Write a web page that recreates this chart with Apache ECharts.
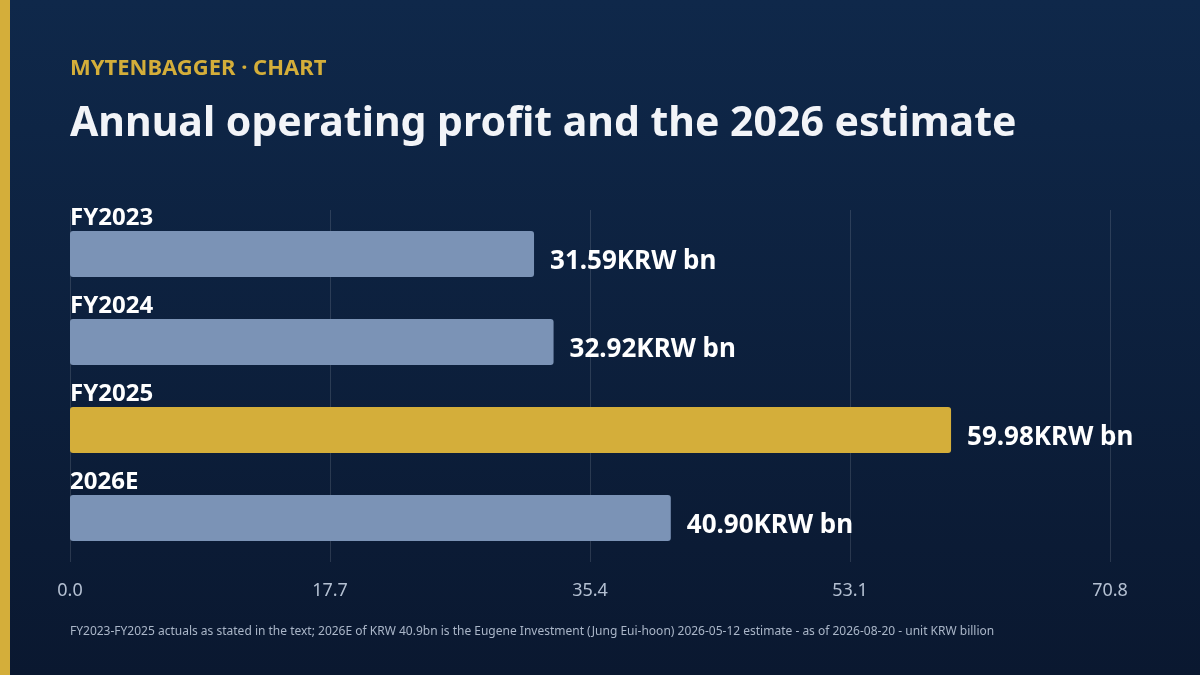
<!DOCTYPE html>
<html><head><meta charset="utf-8">
<script src="https://cdn.jsdelivr.net/npm/echarts@6/dist/echarts.min.js"></script>
<style>html,body{margin:0;padding:0;}#c{width:1200px;height:675px;}</style>
</head><body><div id="c"></div>
<script>
const categories = ['FY2023','FY2024','FY2025','2026E'];
const values = [31.59, 32.92, 59.98, 40.90];
const highlight = [false, false, true, false];
const tickValues = [0, 17.7, 35.4, 53.1, 70.8];
const chart = echarts.init(document.getElementById('c'));
const F = '"Noto Sans", sans-serif';
chart.setOption({
  backgroundColor: {type:'linear',x:0,y:0,x2:0,y2:1,colorStops:[{offset:0,color:'#0f284a'},{offset:1,color:'#0a1830'}]},
  graphic: [
    {type:'rect',left:0,top:0,shape:{width:10,height:675},style:{fill:'#d4ae3a'}},
    {type:'text',left:70,top:58,style:{text:'MYTENBAGGER · CHART',fill:'#d4ae3a',font:'bold 22px '+F}},
    {type:'text',left:70,top:104,style:{text:'Annual operating profit and the 2026 estimate',fill:'#f2f4f8',font:'bold 41px '+F}},
    {type:'text',left:70,top:626,style:{text:'FY2023-FY2025 actuals as stated in the text; 2026E of KRW 40.9bn is the Eugene Investment (Jung Eui-hoon) 2026-05-12 estimate - as of 2026-08-20 - unit KRW billion',fill:'#aab6c8',font:'12px '+F}}
  ],
  grid:{left:70,right:90,top:210,bottom:113},
  xAxis:{type:'value',min:0,max:70.8,interval:17.7,
    axisLine:{show:false},axisTick:{show:false},
    splitLine:{lineStyle:{color:'rgba(255,255,255,0.13)'}},
    axisLabel:{color:'#b4c0d2',fontSize:18,fontFamily:F,margin:20,
      formatter:v=>{const t=tickValues.find(x=>Math.abs(x-v)<1e-6);return (t!==undefined?t:v).toFixed(1);}}},
  yAxis:{type:'category',data:categories,inverse:true,
    axisLine:{show:false},axisTick:{show:false},
    axisLabel:{inside:true,align:'left',verticalAlign:'bottom',margin:0,padding:[0,0,24,0],
      color:'#ffffff',fontSize:24,fontWeight:'bold',fontFamily:F}},
  series:[{type:'bar',barWidth:46,
    data:values.map((v,i)=>({value:v,itemStyle:{color:highlight[i]?'#d4ae3a':'#7b93b6',borderRadius:3}})),
    label:{show:true,position:'right',distance:16,offset:[0,8],color:'#ffffff',fontSize:26,fontWeight:'bold',fontFamily:F,
      formatter:p=>p.value.toFixed(2)+'KRW bn'}}]
});
</script></body></html>
